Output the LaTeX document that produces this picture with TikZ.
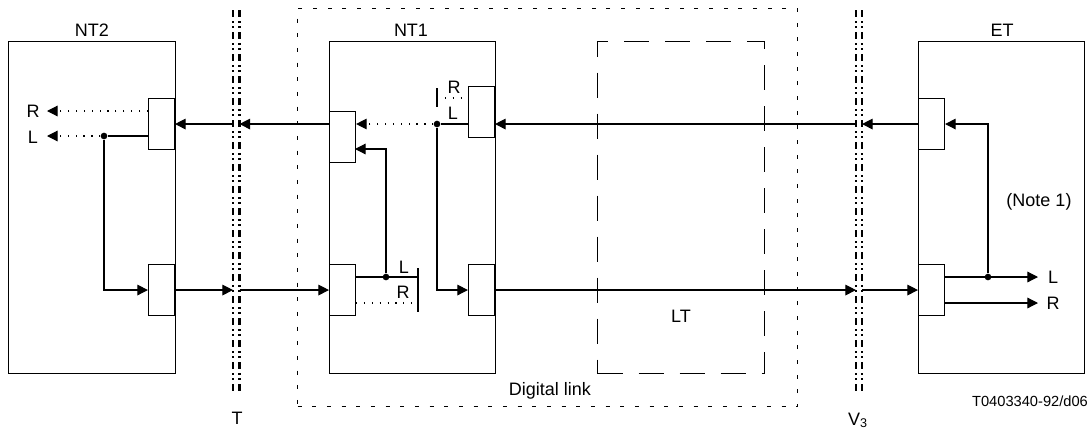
\documentclass[tikz,border=0pt]{standalone}
\usepackage{fontspec}
\setmainfont{Liberation Sans}
\usetikzlibrary{arrows.meta}
\begin{document}
\begin{tikzpicture}[x=0.75pt,y=-0.75pt,
  box/.style={draw, line width=0.9pt, inner sep=0, anchor=north west},
  sub/.style={draw, fill=white, line width=0.8pt, inner sep=0, minimum width=19.5pt, minimum height=38.25pt},
  lbl/.style={font=\fontsize{13.5}{15}\selectfont, inner sep=0},
  small/.style={font=\fontsize{11}{13}\selectfont, inner sep=0},
  conn/.style={line width=0.9pt},
  arr/.style={conn, -{Triangle[length=8pt,width=8pt]}},
  dotl/.style={line width=0.9pt, dash pattern=on 0.9pt off 5pt},
  dotarr/.style={dotl, -{Triangle[length=8pt,width=8pt]}},
  iface/.style={line width=1.6pt, dash pattern=on 5.25pt off 3pt on 1.5pt off 2.25pt on 1.5pt off 3pt},
  dot/.style={circle, fill, inner sep=0, minimum size=5pt},
  linkbox/.style={draw, line width=0.8pt, dash pattern=on 3pt off 8pt, inner sep=0, anchor=north west},
  ltbox/.style={draw, line width=0.8pt, dash pattern=on 18.75pt off 12pt, inner sep=0, anchor=north west},
  bar/.style={line width=0.9pt}
]
\useasboundingbox (0,0) rectangle (1090,433);

% enclosing boxes
\node[linkbox, minimum width=375pt, minimum height=298.5pt] (DL) at (297,8) {};
\node[ltbox, minimum width=125.25pt, minimum height=249pt] (LT) at (597,41) {};
\node[box, minimum width=125.25pt, minimum height=249pt] (NT2) at (8,41) {};
\node[box, minimum width=124.5pt, minimum height=249pt] (NT1) at (329,41) {};
\node[box, minimum width=124.5pt, minimum height=249pt] (ET) at (918,41) {};

% titles
\node[lbl] (tNT2) at (92,30) {NT2};
\node[lbl] (tNT1) at (411,30) {NT1};
\node[lbl] (tET) at (1002,30) {ET};
\node[lbl, anchor=base] (tDL) at (550,395) {Digital link};
\node[lbl] (tLT) at (681,316) {LT};
\node[lbl] (tT) at (237,418) {T};
\node[lbl, anchor=base] (tV) at (858,425) {V\textsubscript{3}};
\node[lbl, anchor=base] (tN) at (1039,206) {(Note 1)};
\node[small, anchor=base] (tRef) at (1030,406) {T0403340-92/d06};

% sub-boxes
\node[sub, anchor=north east] (NT2u) at (175,98) {};
\node[sub, anchor=north east] (NT2d) at (175,264) {};
\node[sub, anchor=north west] (NT1lu) at (329,111) {};
\node[sub, anchor=north west] (NT1ld) at (329,264) {};
\node[sub, anchor=north east] (NT1ru) at (495,86) {};
\node[sub, anchor=north east] (NT1rd) at (495,264) {};
\node[sub, anchor=north west] (ETu) at (918,98) {};
\node[sub, anchor=north west] (ETd) at (918,264) {};

% interface lines T and V3
\coordinate (TL) at (233,10);
\coordinate (TR) at (239.5,10);
\coordinate (VL) at (856,10);
\coordinate (VR) at (862,10);
\draw[iface] (TL) -- (233,393);
\draw[iface] (TR) -- (239.5,393);
\draw[iface] (VL) -- (856,393);
\draw[iface] (VR) -- (862,393);

% NT2 <-> NT1 across T
\draw[arr] (NT2d.east) -- (NT2d.east -| TL);
\draw[arr] (NT2d.east -| TR) -- (NT1ld.west);
\draw[arr] (NT2u.east -| NT1lu.west) -- (NT2u.east -| TR);
\draw[arr] (NT2u.east -| TL) -- (NT2u.east);

% NT1 <-> ET across V3
\draw[arr] (ETu.west) -- (ETu.west -| VR);
\draw[arr] (ETu.west -| VL) -- (ETu.west -| NT1ru.east);
\draw[arr] (NT1rd.east) -- (NT1rd.east -| VL);
\draw[arr] (NT1rd.east -| VR) -- (ETd.west);

% NT2 internals
\node[dot] (d1) at (104,136) {};
\coordinate (nR) at (47,111);
\coordinate (nL) at (47,136);
\node[lbl] (lR1) at (33,111) {R};
\node[lbl] (lL1) at (33,137) {L};
\draw[conn] (NT2u.west |- d1) -- (d1);
\draw[dotarr] (d1) -- (nL);
\draw[dotarr] (NT2u.west |- nR) -- (nR);
\draw[arr] (d1) |- (NT2d.west);

% NT1 internals (upper)
\node[dot] (d2) at (437,124) {};
\coordinate (b1t) at (437,88);
\coordinate (b1b) at (437,107);
\coordinate (r1) at (437,98);
\draw[conn] (NT1ru.west |- d2) -- (d2);
\draw[dotarr] (d2) -- (d2 -| NT1lu.east);
\draw[bar] (b1t) -- (b1b);
\draw[dotl] (r1) -- (r1 -| NT1ru.west);
\draw[arr] (d2) |- (NT1rd.west);
\node[lbl] (lR2) at (454,87) {R};
\node[lbl] (lL2) at (453,113) {L};

% NT1 internals (lower)
\node[dot] (d3) at (386,277) {};
\coordinate (b2t) at (418,268);
\coordinate (b2b) at (418,312);
\coordinate (r2) at (418,303);
\coordinate (in2) at (355,149);
\draw[conn] (d3 -| NT1ld.east) -- (d3 -| b2t);
\draw[bar] (b2t) -- (b2b);
\draw[dotl] (r2 -| NT1ld.east) -- (r2);
\draw[arr] (d3) |- (in2);
\node[lbl] (lL3) at (404,267) {L};
\node[lbl] (lR3) at (403,292) {R};

% ET internals
\node[dot] (d4) at (988,277) {};
\coordinate (eL) at (1038,277);
\coordinate (eR) at (1038,303);
\draw[arr] (d4) |- (ETu.east);
\draw[arr] (ETd.east |- d4) -- (eL);
\draw[arr] (ETd.east |- eR) -- (eR);
\node[lbl] (lL4) at (1053,277) {L};
\node[lbl] (lR4) at (1053,303) {R};
\end{tikzpicture}
\end{document}
